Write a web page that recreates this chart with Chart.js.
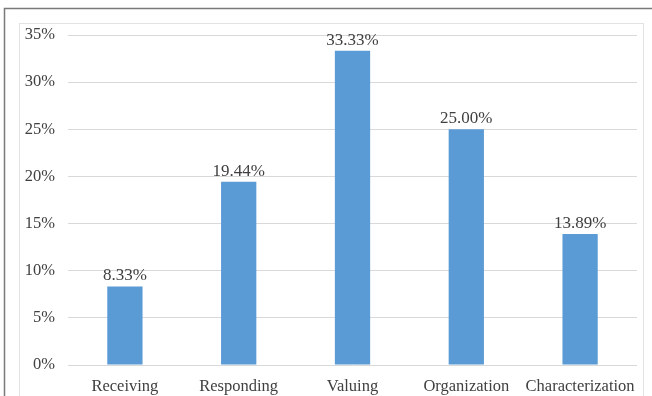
<!DOCTYPE html>
<html>
<head>
<meta charset="utf-8">
<script src="https://cdn.jsdelivr.net/npm/chart.js@4"></script>
<style>
  html, body { margin: 0; padding: 0; background: #fff; }
  #wrap { width: 652px; height: 396px; }
</style>
</head>
<body>
<div id="wrap"><canvas id="chart" width="652" height="396"></canvas></div>
<script>
// chart data
const categories = ['Receiving', 'Responding', 'Valuing', 'Organization', 'Characterization'];
const percentValues = [8.33, 19.44, 33.33, 25.00, 13.89];
const yTicks = [0, 5, 10, 15, 20, 25, 30, 35];

// frames around the chart (outer page line + inner panel)
const framePlugin = {
    id: 'frames',
    beforeDraw(chart) {
        const ctx = chart.ctx;
        ctx.save();
        ctx.fillStyle = '#fff';
        ctx.fillRect(0, 0, chart.width, chart.height);
        ctx.strokeStyle = '#7a7a7a';
        ctx.lineWidth = 1.5;
        ctx.beginPath();
        ctx.moveTo(4.5, chart.height);
        ctx.lineTo(4.5, 8.5);
        ctx.lineTo(chart.width, 8.5);
        ctx.stroke();
        ctx.strokeStyle = '#e2e2e2';
        ctx.lineWidth = 1;
        ctx.strokeRect(19.5, 23.5, 624, chart.height);
        ctx.restore();
    }
};

// value labels on top of the bars
const barLabels = {
    id: 'barLabels',
    afterDatasetsDraw(chart) {
        const ctx = chart.ctx;
        const meta = chart.getDatasetMeta(0);
        ctx.save();
        ctx.font = '17px "Liberation Serif", "Times New Roman", serif';
        ctx.fillStyle = '#404040';
        ctx.textAlign = 'center';
        ctx.textBaseline = 'alphabetic';
        meta.data.forEach((bar, i) => {
            ctx.fillText(percentValues[i].toFixed(2) + '%', bar.x, bar.y - 6);
        });
        ctx.restore();
    }
};

const serif = '"Liberation Serif", "Times New Roman", serif';
const ctx = document.getElementById('chart').getContext('2d');
const myChart = new Chart(ctx, {
    type: 'bar',
    data: {
        labels: categories,
        datasets: [{
            data: percentValues,
            backgroundColor: '#5b9bd5',
            borderWidth: 0,
            categoryPercentage: 1,
            barPercentage: 0.31
        }]
    },
    options: {
        responsive: false,
        animation: false,
        layout: { padding: { left: 0, right: 15, top: 35, bottom: 0 } },
        plugins: {
            legend: { display: false },
            tooltip: { enabled: false }
        },
        scales: {
            x: {
                grid: { display: false },
                border: { display: false },
                ticks: {
                    color: '#404040',
                    font: { family: serif, size: 16.5 },
                    padding: 4,
                    maxRotation: 0,
                    minRotation: 0,
                    autoSkip: false
                },
                afterFit(scale) { scale.height = 31; }
            },
            y: {
                min: 0,
                max: 35,
                afterBuildTicks(scale) { scale.ticks = yTicks.map(v => ({ value: v })); },
                grid: { color: '#d9d9d9', drawTicks: false },
                border: { display: false },
                ticks: {
                    color: '#404040',
                    font: { family: serif, size: 16.5 },
                    padding: 13,
                    callback: v => v + '%'
                },
                afterFit(scale) { scale.width = 68; }
            }
        }
    },
    plugins: [framePlugin, barLabels]
});
</script>
</body>
</html>
